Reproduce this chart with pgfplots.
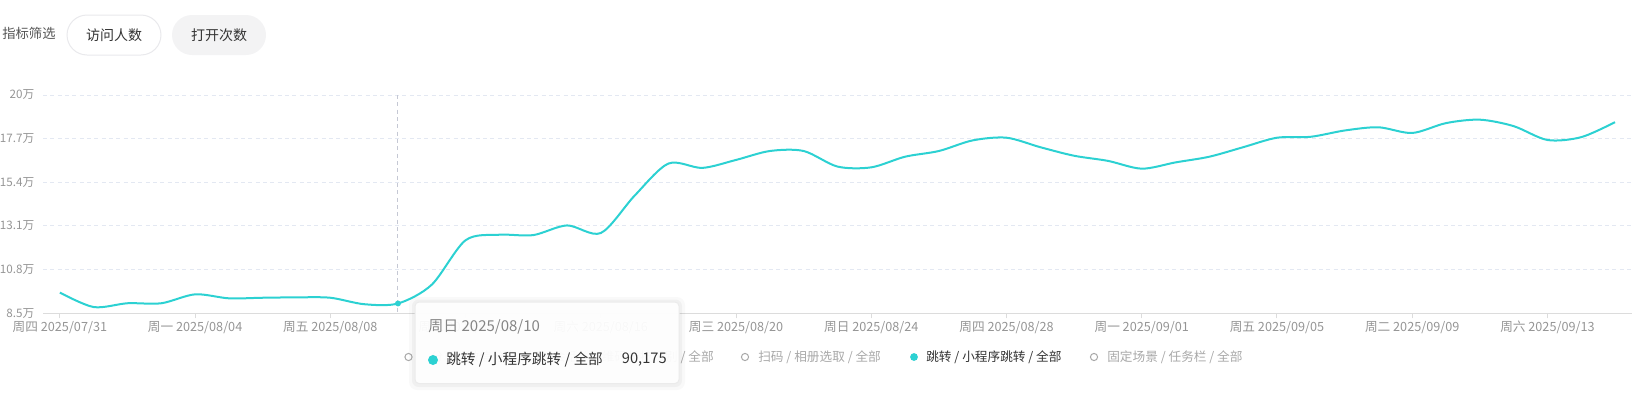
\documentclass[border=0pt]{standalone}
\usepackage{fontspec}
\setmainfont{Noto Sans CJK SC}
\usepackage{pgfplots}
\usepackage{pgfplotstable}
\pgfplotsset{compat=1.18}
\definecolor{linec}{HTML}{2CD1D2}
\definecolor{gridc}{HTML}{E3E8F2}
\definecolor{axisc}{HTML}{DCDCDC}
\definecolor{tickc}{HTML}{959595}
\definecolor{btnbg}{HTML}{F3F3F4}
\definecolor{btnborder}{HTML}{E9E9EC}
\definecolor{darktext}{HTML}{333333}
\definecolor{midtext}{HTML}{555555}
\definecolor{legendgrey}{HTML}{A8A8A8}
\definecolor{pointerc}{HTML}{C5C8D4}

\pgfplotstableread{
d v
0 95900
1 88300
2 90300
3 90300
4 95000
5 92900
6 93200
7 93400
8 93200
9 89800
10 90175
11 100100
12 123500
13 126400
14 126200
15 131300
16 127300
17 147000
18 163900
19 161600
20 165800
21 170500
22 170500
23 162300
24 161900
25 167500
26 170500
27 176100
28 177500
29 172500
30 168000
31 165300
32 161200
33 164500
34 167500
35 172500
36 177500
37 178000
38 181300
39 183000
40 180000
41 185200
42 187000
43 183600
44 176300
45 177800
46 185700
}\datatable

\begin{document}
\begin{tikzpicture}[x=0.75pt,y=-0.75pt]
\path[use as bounding box] (0,0) rectangle (1648,397);
% header
\node[anchor=west, inner sep=0pt, font=\fontsize{10pt}{12pt}\selectfont, text=midtext] at (2,33.5) {指标筛选};
\draw[btnborder, fill=white, line width=0.75pt, rounded corners=15pt] (67,15) rectangle (161,55);
\node[inner sep=0pt, font=\fontsize{10.5pt}{12pt}\selectfont, text=darktext] at (114,35) {访问人数};
\fill[btnbg, rounded corners=15pt] (172,15) rectangle (266,55);
\node[inner sep=0pt, font=\fontsize{10.5pt}{12pt}\selectfont, text=darktext] at (219,35) {打开次数};

\begin{axis}[
  at={(32.25pt,-234.98pt)}, anchor=south west,
  scale only axis, width=1191.75pt, height=163.73pt,
  xmin=-0.5, xmax=46.5, ymin=85000, ymax=200000,
  scaled y ticks=false,
  axis line style={draw=none},
  ytick={85000,108000,131000,154000,177000,200000},
  yticklabels={8.5万,10.8万,13.1万,15.4万,17.7万,20万},
  ymajorgrids,
  grid style={gridc, dash pattern=on 3pt off 2.5pt, line width=0.75pt},
  ytick style={draw=none},
  xtick={0,4,...,44},
  xticklabels={周四 2025/07/31, 周一 2025/08/04, 周五 2025/08/08, 周二 2025/08/12, 周六 2025/08/16, 周三 2025/08/20, 周日 2025/08/24, 周四 2025/08/28, 周一 2025/09/01, 周五 2025/09/05, 周二 2025/09/09, 周六 2025/09/13},
  xtick pos=left,
  tick align=outside,
  major tick length=3.75pt,
  xtick style={axisc, line width=0.75pt},
  yticklabel style={font=\fontsize{8.75pt}{10pt}\selectfont, text=tickc, anchor=east, inner sep=0pt, xshift=-2.6pt},
  xticklabel style={font=\fontsize{9.5pt}{10pt}\selectfont, text=tickc, anchor=base, inner sep=0pt, yshift=-9.8pt},
  clip=false,
]
\draw[axisc, line width=1.2pt] (axis cs:-0.5,85000) -- (axis cs:46.5,85000);
\draw[pointerc, line width=0.75pt, dash pattern=on 3pt off 2.5pt] (axis cs:10,200000) -- (axis cs:10,85000);
\addplot[linec, line width=1.5pt, smooth, tension=0.5, mark=none] table[x=d,y=v]{\datatable};
\addplot[only marks, mark=*, mark size=2pt, mark options={fill=linec, draw=linec}] coordinates {(10,90175)};
\end{axis}

% legend
\begin{scope}[font=\fontsize{9.5pt}{11pt}\selectfont]
\draw[legendgrey, line width=0.75pt] (408.5,357) circle (3.6);
\node[anchor=east, inner sep=0pt, text=legendgrey] at (714,357) {分享 / 微信分享 / 好友会话 / 二维码长按识别 / 全部};
\draw[legendgrey, line width=0.75pt] (745,357) circle (3.6);
\node[anchor=west, inner sep=0pt, text=legendgrey] at (758,357) {扫码 / 相册选取 / 全部};
\fill[linec] (914,357) circle (3.9);
\node[anchor=west, inner sep=0pt, text=darktext] at (926,357) {跳转 / 小程序跳转 / 全部};
\draw[legendgrey, line width=0.75pt] (1094,357) circle (3.6);
\node[anchor=west, inner sep=0pt, text=legendgrey] at (1107,357) {固定场景 / 任务栏 / 全部};
\end{scope}

% tooltip
\fill[black, opacity=0.025, rounded corners=6pt] (409,297) rectangle (685,390);
\fill[black, opacity=0.035, rounded corners=5pt] (412,299.5) rectangle (682,387);
\draw[draw=black!8, fill=white, fill opacity=0.94, rounded corners=3pt, line width=0.75pt] (415,302) rectangle (679,383.5);
\node[anchor=west, inner sep=0pt, text=black!48, font=\fontsize{11.25pt}{13pt}\selectfont] at (428,326.5) {周日 2025/08/10};
\fill[linec] (433,360) circle (5);
\node[anchor=west, inner sep=0pt, text=darktext, font=\fontsize{11pt}{13pt}\selectfont] at (446,360) {跳转 / 小程序跳转 / 全部};
\node[anchor=east, inner sep=0pt, text=darktext, font=\fontsize{11pt}{13pt}\selectfont] at (667,360) {90,175};
\end{tikzpicture}
\end{document}
